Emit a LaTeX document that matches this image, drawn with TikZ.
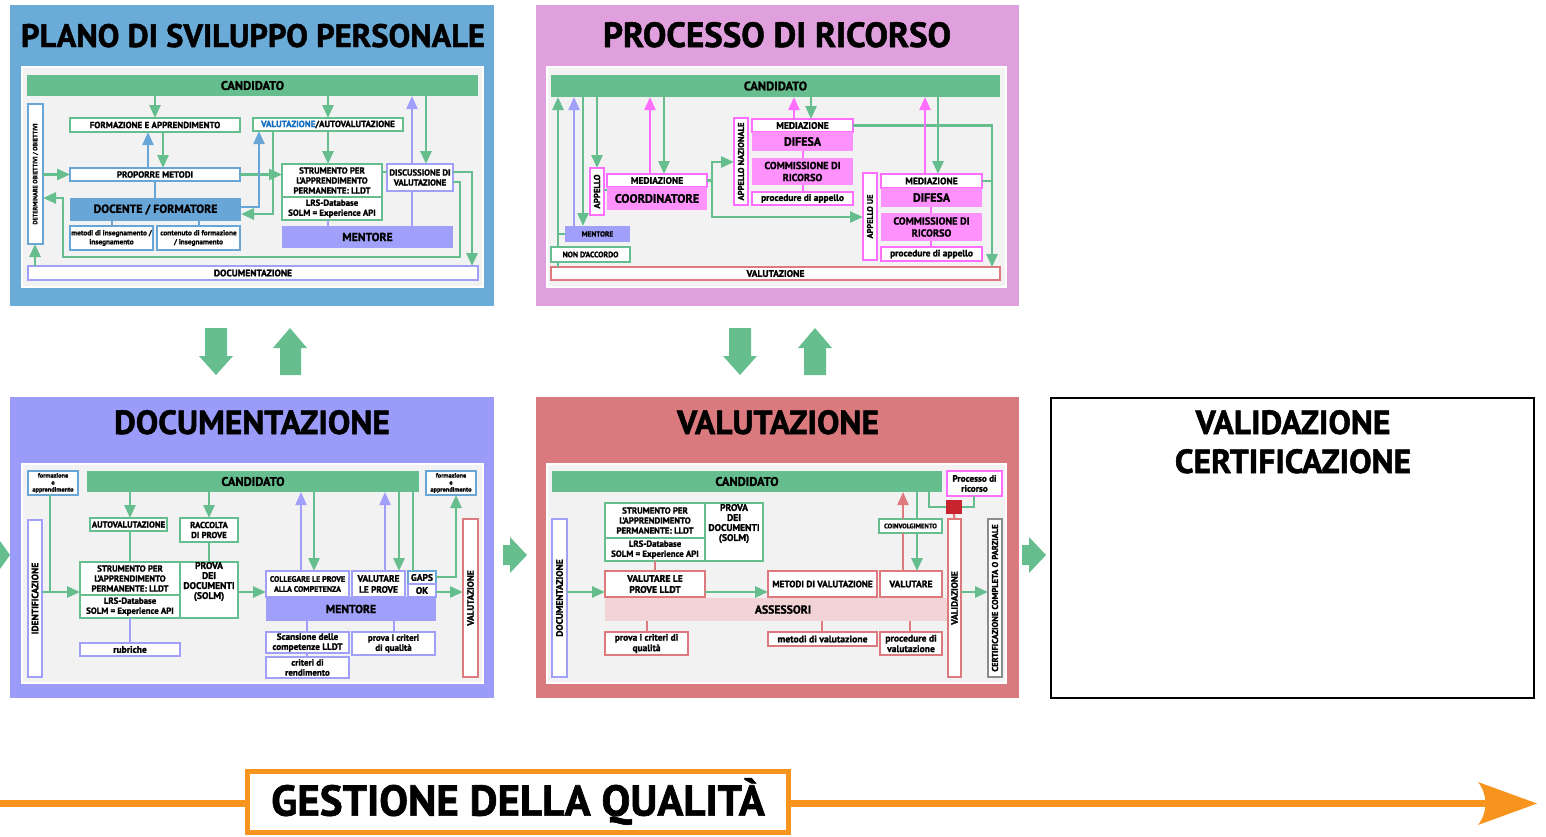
\documentclass[tikz,border=0pt]{standalone}
\usepackage{fontspec}
\setmainfont{PT Sans}[BoldFeatures={FakeBold=1.5}]
\usetikzlibrary{arrows.meta}
\definecolor{pblue}{RGB}{107,171,215}
\definecolor{ppink}{RGB}{224,160,222}
\definecolor{plav}{RGB}{155,155,250}
\definecolor{pred}{RGB}{218,122,126}
\definecolor{ltg}{RGB}{242,242,242}
\definecolor{grn}{RGB}{102,190,142}
\definecolor{blu}{RGB}{104,166,216}
\definecolor{lav}{RGB}{160,160,250}
\definecolor{mag}{RGB}{255,110,255}
\definecolor{magf}{RGB}{255,145,252}
\definecolor{redb}{RGB}{222,122,126}
\definecolor{pinkl}{RGB}{242,212,214}
\definecolor{dred}{RGB}{200,36,48}
\definecolor{tblue}{RGB}{20,110,190}
\definecolor{org}{RGB}{247,148,30}
\definecolor{gry}{RGB}{140,140,140}
\newcommand\bx[7]{\node[#6, minimum width={(#4)-(#2)}, minimum height={(#5)-(#3)}] (#1) at ({((#2)+(#4))/2},{((#3)+(#5))/2}) {#7};}
\newcommand\vbx[8]{\bx{#1}{#2}{#3}{#4}{#5}{#6}{}\node[rotate=90, inner sep=0pt, #7] (#1t) at (#1.center) {#8};}
\begin{document}
\begin{tikzpicture}[x=1pt,y=-1pt,
 bxs/.style={inner sep=0pt, outer sep=0pt, align=center, line width=1.6pt, text=black},
 fz/.style 2 args={font=\fontsize{#1}{#2}\selectfont\bfseries},
 gb/.style={bxs, draw=grn, fill=white},
 bb/.style={bxs, draw=blu, fill=white},
 lb/.style={bxs, draw=lav, fill=white},
 mb/.style={bxs, draw=mag, fill=white},
 rb/.style={bxs, draw=redb, fill=white},
 kb/.style={bxs, draw=gry, fill=white},
 candbar/.style={bxs, fill=grn, fz={12.5}{13}},
 arrtip/.style={-{Triangle[length=13pt,width=11pt]}},
 gline/.style={draw=grn, line width=2.6pt},
 garr/.style={gline, arrtip},
 bline/.style={draw=blu, line width=2.2pt}, barr/.style={bline,arrtip},
 lline/.style={draw=lav, line width=2.2pt}, larr/.style={lline,arrtip},
 mline/.style={draw=mag, line width=2.2pt}, marr/.style={mline,arrtip},
 rline/.style={draw=redb, line width=2.2pt}, rarr/.style={rline,arrtip},
 ttl/.style={inner sep=0pt},
 panel/.style={bxs, line width=0pt},
 inner/.style={bxs, fill=ltg, draw=white, line width=2pt},
 blk/.style={fill=grn},
]
\useasboundingbox (0,0) rectangle (1546,836);
% ================= PANEL 1 =================
\bx{p1}{10}{5}{494}{306}{panel, fill=pblue}{}
\bx{p1in}{22}{67}{483}{287}{inner}{}
\node[ttl, fz={32.5}{36}, anchor=base] (t1) at (253,47) {PLANO DI SVILUPPO PERSONALE};
\bx{cand1}{27}{75}{478}{96}{candbar}{CANDIDATO}
\vbx{det1}{28}{104}{43}{244}{bb}{fz={6.2}{7}}{DETERMINARE OBIETTIVI / OBIETTIVI}
\bx{fa1}{70}{118}{240}{132}{gb, fz={9}{10}}{FORMAZIONE E APPRENDIMENTO}
\bx{va1}{253}{118}{403}{131}{gb, fz={9}{10}}{{\color{tblue}VALUTAZIONE}/AUTOVALUTAZIONE}
\bx{pm1}{70}{168}{240}{181}{bb, fz={9}{10}}{PROPORRE METODI}
\bx{doc1}{70}{198}{241}{221}{bxs, fill=blu, fz={11.8}{13}}{DOCENTE / FORMATORE}
\bx{mi1}{70}{226}{153}{250}{bb, fz={7.3}{9}}{metodi di insegnamento /\\insegnamento}
\bx{cf1}{157}{226}{240}{250}{bb, fz={7.3}{9}}{contenuto di formazione\\/ insegnamento}
\bx{st1}{282}{164}{382}{197}{gb, fz={8.8}{10}}{STRUMENTO PER\\L'APPRENDIMENTO\\PERMANENTE: LLDT}
\bx{lrs1}{282}{197}{382}{220}{gb, fz={8.8}{10}}{LRS-Database\\SOLM = Experience API}
\bx{di1}{387}{164}{453}{191}{lb, fz={8.7}{10}}{DISCUSSIONE DI\\VALUTAZIONE}
\bx{me1}{282}{226}{453}{248}{bxs, fill=lav, fz={11.7}{13}}{MENTORE}
\bx{dc1}{28}{266}{478}{280}{lb, fz={9.5}{10}}{DOCUMENTAZIONE}
\draw[garr] (cand1.south -| 155,0) -- (fa1.north -| 155,0);
\draw[barr] (pm1.north -| 148,0) -- (fa1.south -| 148,0);
\draw[garr] (fa1.south -| 163,0) -- (pm1.north -| 163,0);
\draw[bline] (pm1.south -| 155,0) -- (doc1.north -| 155,0);
\draw[bline] (doc1.south -| 112,0) -- (mi1.north -| 112,0);
\draw[bline] (doc1.south -| 199,0) -- (cf1.north -| 199,0);
\draw[garr] (det1.east |- pm1.east) -- (pm1.west);
\draw[garr] (pm1.east) -- (st1.west |- pm1.east);
\draw[gline] (st1.east |- 0,172) -- (di1.west |- 0,172);
\draw[garr] (cand1.south -| 328,0) -- (va1.north -| 328,0);
\draw[garr] (va1.south -| 328,0) -- (st1.north -| 328,0);
\draw[barr] (doc1.east |- 0,207) -| (259,0 |- va1.south);
\draw[garr] (va1.south -| 273,0) |- (doc1.east |- 0,214);
\draw[lline] (me1.north -| 412,0) -- (di1.south -| 412,0);
\draw[larr] (di1.north -| 412,0) -- (cand1.south -| 412,0);
\draw[garr] (cand1.south -| 426,0) -- (di1.north -| 426,0);
\draw[lline, line width=1.5pt] (lrs1.south -| 328,0) -- (me1.north -| 328,0);
\draw[garr] (di1.east |- 0,172) -| (472,0 |- dc1.north);
\draw[garr] (di1.east |- 0,182) -- (460,182) -- (460,257) -- (63,257) -- (63,198) -- (det1.east |- 0,198);
\draw[garr] (dc1.north -| 35,0) -- (det1.south -| 35,0);
% ================= PANEL 2 =================
\bx{p2}{536}{5}{1019}{306}{panel, fill=ppink}{}
\bx{p2in}{547}{67}{1006}{287}{inner}{}
\node[ttl, fz={35}{38}, anchor=base] (t2) at (777,47) {PROCESSO DI RICORSO};
\bx{cand2}{551}{75}{1000}{97}{candbar}{CANDIDATO}
\vbx{app2}{590}{168}{604}{215}{mb}{fz={8.8}{9}}{APPELLO}
\bx{med2a}{607}{174}{707}{187}{mb, fz={9.5}{10}}{MEDIAZIONE}
\bx{coo2}{607}{187}{707}{210}{bxs, fill=magf, fz={12.2}{13}}{COORDINATORE}
\vbx{an2}{734}{118}{748}{205}{mb}{fz={8.5}{9}}{APPELLO NAZIONALE}
\bx{med2b}{752}{119}{853}{132}{mb, fz={9.5}{10}}{MEDIAZIONE}
\bx{dif2b}{752}{132}{853}{151}{bxs, fill=magf, fz={12}{13}}{DIFESA}
\bx{com2b}{752}{158}{853}{185}{bxs, fill=magf, fz={10.2}{12}}{COMMISSIONE DI\\RICORSO}
\bx{pro2b}{752}{192}{853}{205}{mb, fz={9.4}{10}}{procedure di appello}
\vbx{ue2}{863}{173}{877}{260}{mb}{fz={8.3}{9}}{APPELLO UE}
\bx{med2c}{881}{174}{982}{188}{mb, fz={9.5}{10}}{MEDIAZIONE}
\bx{dif2c}{881}{188}{982}{207}{bxs, fill=magf, fz={12}{13}}{DIFESA}
\bx{com2c}{881}{213}{982}{241}{bxs, fill=magf, fz={10.2}{12}}{COMMISSIONE DI\\RICORSO}
\bx{pro2c}{881}{247}{982}{261}{mb, fz={9.4}{10}}{procedure di appello}
\bx{men2}{565}{226}{630}{242}{bxs, fill=lav, fz={7.3}{8}}{MENTORE}
\bx{nda2}{551}{247}{630}{262}{gb, fz={7.8}{8}}{NON D'ACCORDO}
\bx{val2}{551}{267}{1000}{280}{rb, fz={9.6}{10}}{VALUTAZIONE}
\draw[gline] (val2.north -| 558,0) -- (nda2.south -| 558,0);
\draw[garr] (nda2.north -| 558,0) -- (cand2.south -| 558,0);
\draw[gline] (men2.west) -- (558,0 |- men2.west);
\draw[larr] (men2.north -| 574,0) -- (cand2.south -| 574,0);
\draw[garr] (cand2.south -| 583,0) -- (men2.north -| 583,0);
\draw[garr] (cand2.south -| 597,0) -- (app2.north -| 597,0);
\draw[gline, line width=1.2pt] (app2.east |- 0,190) -- (coo2.west |- 0,190);
\draw[marr] (med2a.north -| 650,0) -- (cand2.south -| 650,0);
\draw[garr] (cand2.south -| 664,0) -- (med2a.north -| 664,0);
\draw[garr] (med2a.east) -| (712,162) -- (an2.west |- 0,162);
\draw[garr] (med2a.east) -| (712,217) -- (ue2.west |- 0,217);
\draw[mline, line width=1.5pt] (dif2b.south -| 803,0) -- (com2b.north -| 803,0);
\draw[mline, line width=1.5pt] (com2b.south -| 803,0) -- (pro2b.north -| 803,0);
\draw[mline, line width=1.5pt] (dif2c.south -| 931,0) -- (com2c.north -| 931,0);
\draw[mline, line width=1.5pt] (com2c.south -| 931,0) -- (pro2c.north -| 931,0);
\draw[marr] (med2b.north -| 794,0) -- (cand2.south -| 794,0);
\draw[garr] (cand2.south -| 811,0) -- (med2b.north -| 811,0);
\draw[garr] (med2b.east) -| (val2.north -| 992,0);
\draw[gline] (med2c.east) -- (992,0 |- med2c.east);
\draw[marr] (med2c.north -| 925,0) -- (cand2.south -| 925,0);
\draw[garr] (cand2.south -| 938,0) -- (med2c.north -| 938,0);
% ================= PANEL 3 =================
\bx{p3}{10}{397}{494}{698}{panel, fill=plav}{}
\bx{p3in}{22}{464}{483}{683}{inner}{}
\node[ttl, fz={33.5}{36}, anchor=base] (t3) at (252,434) {DOCUMENTAZIONE};
\bx{fa3a}{28}{471}{78}{495}{bb, fz={6.3}{7}}{formazione\\e\\apprendimento}
\bx{cand3}{87}{471}{419}{492}{candbar}{CANDIDATO}
\vbx{id3}{28}{520}{42}{677}{lb}{fz={9.5}{10}}{IDENTIFICAZIONE}
\bx{au3}{90}{518}{167}{531}{gb, fz={8.7}{9}}{AUTOVALUTAZIONE}
\bx{rc3}{180}{518}{238}{542}{gb, fz={8.7}{10}}{RACCOLTA\\DI PROVE}
\bx{st3}{80}{562}{180}{595}{gb, fz={8.8}{10}}{STRUMENTO PER\\L'APPRENDIMENTO\\PERMANENTE: LLDT}
\bx{lrs3}{80}{595}{180}{618}{gb, fz={8.8}{10}}{LRS-Database\\SOLM = Experience API}
\bx{pv3}{180}{562}{238}{618}{gb, fz={9.6}{10}}{PROVA\\DEI\\DOCUMENTI\\(SOLM)\\[9pt]}
\bx{ru3}{80}{643}{180}{656}{lb, fz={9.5}{10}}{rubriche}
\bx{co3}{266}{571}{349}{597}{lb, fz={7.9}{10}}{COLLEGARE LE PROVE\\ALLA COMPETENZA}
\bx{vp3}{352}{571}{405}{597}{lb, fz={9.3}{11}}{VALUTARE\\LE PROVE}
\bx{ga3}{408}{571}{436}{584}{bb, fz={9.5}{10}}{GAPS}
\bx{ok3}{408}{584}{436}{597}{lb, fz={9.5}{10}}{OK}
\bx{me3}{266}{597}{436}{621}{bxs, fill=lav, fz={11.7}{13}}{MENTORE}
\bx{sc3}{266}{632}{349}{653}{lb, fz={9.2}{10}}{Scansione delle\\competenze LLDT}
\bx{cr3}{266}{657}{349}{678}{lb, fz={9}{10}}{criteri di\\rendimento}
\bx{pc3}{352}{632}{435}{655}{lb, fz={9}{10}}{prova i criteri\\di qualità}
\bx{fa3b}{426}{471}{476}{495}{bb, fz={6.3}{7}}{formazione\\e\\apprendimento}
\vbx{va3}{463}{519}{478}{677}{rb}{fz={9.2}{10}}{VALUTAZIONE}
\draw[gline] (fa3a.south -| 50,0) -- (50,592);
\draw[garr] (id3.east |- 0,592) -- (st3.west |- 0,592);
\draw[garr] (cand3.south -| 130,0) -- (au3.north -| 130,0);
\draw[garr] (cand3.south -| 209,0) -- (rc3.north -| 209,0);
\draw[gline] (au3.south -| 130,0) -- (st3.north -| 130,0);
\draw[gline] (rc3.south -| 209,0) -- (pv3.north -| 209,0);
\draw[lline, line width=1.5pt] (lrs3.south -| 130,0) -- (ru3.north -| 130,0);
\draw[garr] (pv3.east |- 0,592) -- (co3.west |- 0,592);
\draw[larr] (co3.north -| 301,0) -- (cand3.south -| 301,0);
\draw[garr] (cand3.south -| 314,0) -- (co3.north -| 314,0);
\draw[larr] (vp3.north -| 385,0) -- (cand3.south -| 385,0);
\draw[garr] (cand3.south -| 399,0) -- (vp3.north -| 399,0);
\draw[gline] (cand3.south -| 413,0) -- (ga3.north -| 413,0);
\draw[garr] (ga3.east |- 0,577) -| (fa3b.south -| 456,0);
\draw[garr] (ok3.east |- 0,592) -- (va3.west |- 0,592);
\draw[lline, line width=1.5pt] (me3.south -| 307,0) -- (sc3.north -| 307,0);
\draw[lline, line width=1.5pt] (sc3.south -| 307,0) -- (cr3.north -| 307,0);
\draw[lline, line width=1.5pt] (me3.south -| 394,0) -- (pc3.north -| 394,0);
% ================= PANEL 4 =================
\bx{p4}{536}{397}{1019}{698}{panel, fill=pred}{}
\bx{p4in}{547}{464}{1006}{683}{inner}{}
\node[ttl, fz={33.5}{36}, anchor=base] (t4) at (778,434) {VALUTAZIONE};
\bx{cand4}{552}{471}{942}{492}{candbar}{CANDIDATO}
\vbx{dc4}{552}{519}{567}{677}{lb}{fz={9.4}{10}}{DOCUMENTAZIONE}
\bx{st4}{605}{503}{705}{538}{gb, fz={8.8}{10}}{STRUMENTO PER\\L'APPRENDIMENTO\\PERMANENTE: LLDT}
\bx{lrs4}{605}{538}{705}{561}{gb, fz={8.8}{10}}{LRS-Database\\SOLM = Experience API}
\bx{pv4}{705}{503}{763}{561}{gb, fz={9.6}{10}}{PROVA\\DEI\\DOCUMENTI\\(SOLM)\\[9pt]}
\bx{as4}{605}{598}{947}{621}{bxs, fill=pinkl, fz={11.7}{13}}{\hspace*{14pt}ASSESSORI}
\bx{vl4}{605}{571}{705}{597}{rb, fz={9.6}{11}}{VALUTARE LE\\PROVE LLDT}
\bx{mv4}{768}{571}{877}{597}{rb, fz={9.2}{10}}{METODI DI VALUTAZIONE}
\bx{vt4}{880}{571}{942}{597}{rb, fz={9.6}{10}}{VALUTARE}
\bx{pq4}{605}{632}{688}{655}{rb, fz={9.4}{10.5}}{prova i criteri di\\qualità}
\bx{mvl4}{768}{632}{877}{646}{rb, fz={9.7}{10}}{metodi di valutazione}
\bx{pvl4}{880}{632}{942}{655}{rb, fz={9.6}{10.5}}{procedure di\\valutazione}
\bx{pr4}{947}{471}{1002}{496}{mb, fz={9.2}{10}}{Processo di\\ricorso}
\bx{sq4}{946}{500}{962}{514}{bxs, fill=dred}{}
\vbx{vd4}{948}{519}{961}{677}{rb}{fz={9.2}{10}}{VALIDAZIONE}
\bx{cv4}{879}{519}{942}{533}{gb, fz={6.7}{7}}{COINVOLGIMENTO}
\vbx{ce4}{988}{519}{1002}{677}{kb}{fz={8.5}{9}}{CERTIFICAZIONE COMPLETA O PARZIALE}
\draw[garr] (dc4.east |- 0,592) -- (vl4.west |- 0,592);
\draw[garr] (vl4.east |- 0,592) -- (mv4.west |- 0,592);
\draw[rline, line width=1.5pt] (lrs4.south -| 655,0) -- (vl4.north -| 655,0);
\draw[rline, line width=1.5pt] (as4.south -| 647,0) -- (pq4.north -| 647,0);
\draw[rline, line width=1.5pt] (as4.south -| 822,0) -- (mvl4.north -| 822,0);
\draw[rline, line width=1.5pt] (as4.south -| 910,0) -- (pvl4.north -| 910,0);
\draw[rline] (vt4.north -| 903,0) -- (cv4.south -| 903,0);
\draw[rarr] (cv4.north -| 903,0) -- (cand4.south -| 903,0);
\draw[gline] (cand4.south -| 917,0) -- (cv4.north -| 917,0);
\draw[garr] (cv4.south -| 917,0) -- (vt4.north -| 917,0);
\draw[gline] (cand4.south -| 929,0) |- (sq4.west);
\draw[gline] (sq4.east) -| (pr4.south -| 974,0);
\draw[rline] (sq4.south) -- (vd4.north);
\draw[garr] (vd4.east |- 0,592) -- (ce4.west |- 0,592);
% ================= PANEL 5 =================
\bx{p5}{1051}{398}{1534}{698}{bxs, draw=black, line width=2.5pt, fill=white}{}
\node[ttl, fz={33.5}{36}, anchor=base] (t5a) at (1293,434) {VALIDAZIONE};
\node[ttl, fz={33.5}{36}, anchor=base] (t5b) at (1293,473) {CERTIFICAZIONE};
% ================= BLOCK ARROWS =================
\fill[blk] (205,328) -- (227,328) -- (227,356) -- (233,356) -- (216,375) -- (199,356) -- (205,356) -- cycle;
\fill[blk] (290,328) -- (307,348) -- (301,348) -- (301,375) -- (280,375) -- (280,348) -- (273,348) -- cycle;
\fill[blk] (729,328) -- (751,328) -- (751,356) -- (757,356) -- (740,375) -- (723,356) -- (729,356) -- cycle;
\fill[blk] (815,328) -- (832,348) -- (826,348) -- (826,375) -- (804,375) -- (804,348) -- (798,348) -- cycle;
\fill[blk] (0,541) -- (10,555) -- (0,569) -- cycle;
\fill[blk] (503,545) -- (510,545) -- (510,537) -- (527,555) -- (510,573) -- (510,565) -- (503,565) -- cycle;
\fill[blk] (1022,545) -- (1029,545) -- (1029,537) -- (1046,555) -- (1029,573) -- (1029,565) -- (1022,565) -- cycle;
% ================= QUALITY =================
\draw[org, line width=7pt] (0,803.5) -- (1490,803.5);
\fill[org] (1537,803.5) -- (1478,782) .. controls (1488,795) and (1488,812) .. (1478,825) -- cycle;
\bx{gq}{247.5}{771}{788.5}{832}{bxs, draw=org, line width=5pt, fill=white, fz={43}{44}}{GESTIONE DELLA QUALITÀ}
\end{tikzpicture}
\end{document}
